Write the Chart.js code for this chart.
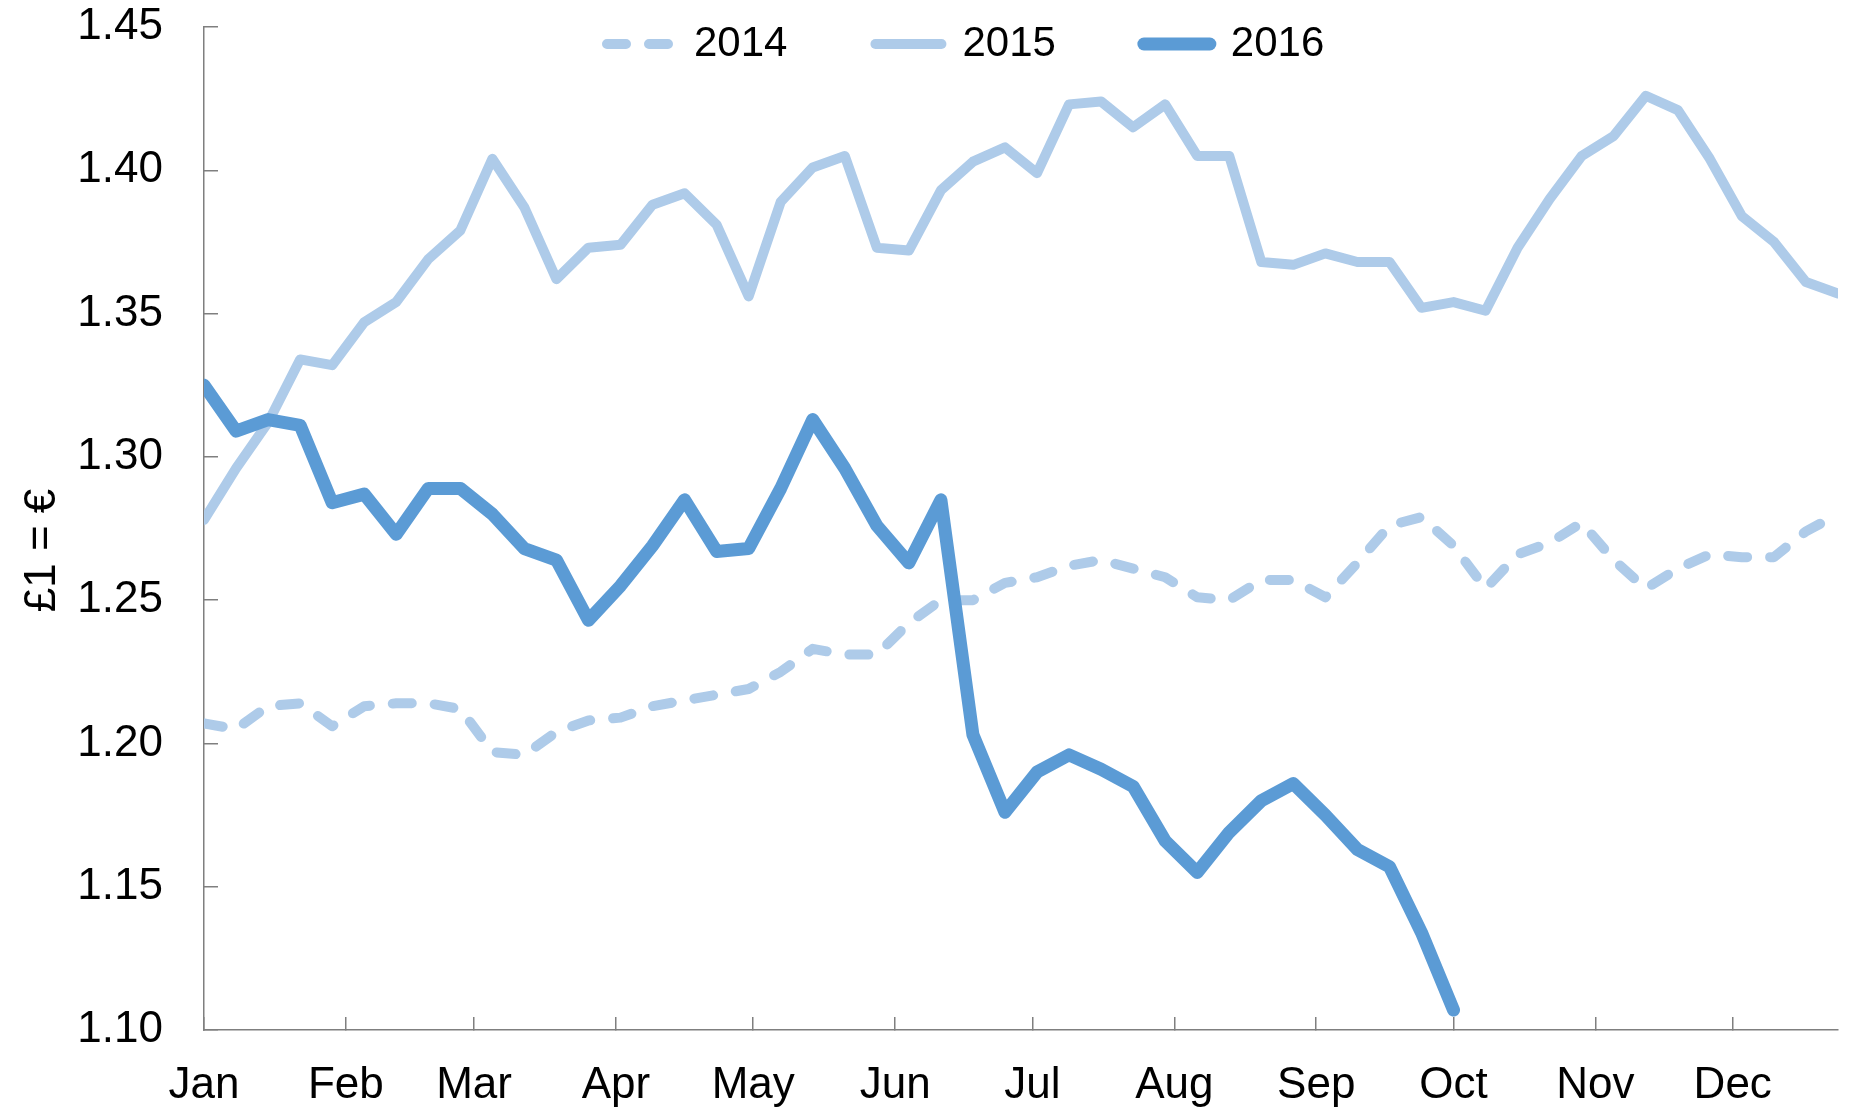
<!DOCTYPE html>
<html>
<head>
<meta charset="utf-8">
<title>£1 = €</title>
<script src="https://cdn.jsdelivr.net/npm/chart.js@4"></script>
<style>
  html, body { margin: 0; padding: 0; background: #fff; }
</style>
</head>
<body>
<canvas id="fx" width="1851" height="1111"></canvas>
<script>
// weekly sterling/euro rate, one line per year, x = day of year

const weekDays = [0, 7, 14, 21, 28, 35, 42, 49, 56, 63, 70, 77, 84, 91, 98, 105, 112, 119, 126, 133,
  140, 147, 154, 161, 168, 175, 182, 189, 196, 203, 210, 217, 224, 231, 238, 245, 252, 259, 266, 273,
  280, 287, 294, 301, 308, 315, 322, 329, 336, 343, 350, 357];

const monthStarts = [0, 31, 59, 90, 120, 151, 181, 212, 243, 273, 304, 334];
const monthNames = ['Jan', 'Feb', 'Mar', 'Apr', 'May', 'Jun', 'Jul', 'Aug', 'Sep', 'Oct', 'Nov', 'Dec'];
const yTicks = [1.10, 1.15, 1.20, 1.25, 1.30, 1.35, 1.40, 1.45];

const rate2014 = [1.207, 1.205, 1.213, 1.214, 1.206, 1.213, 1.214, 1.214, 1.212, 1.197,
  1.196, 1.204, 1.208, 1.209, 1.213, 1.215, 1.217, 1.219, 1.225, 1.233,
  1.231, 1.231, 1.242, 1.250, 1.250, 1.256, 1.258, 1.262, 1.264, 1.261,
  1.258, 1.251, 1.250, 1.257, 1.257, 1.251, 1.263, 1.276, 1.279, 1.269,
  1.254, 1.266, 1.270, 1.277, 1.264, 1.254, 1.261, 1.266, 1.265, 1.265,
  1.274, 1.280];

const rate2015 = [1.278, 1.296, 1.312, 1.334, 1.332, 1.347, 1.354, 1.369, 1.379, 1.404,
  1.387, 1.362, 1.373, 1.374, 1.388, 1.392, 1.381, 1.356, 1.389, 1.401,
  1.405, 1.373, 1.372, 1.393, 1.403, 1.408, 1.399, 1.423, 1.424, 1.415,
  1.423, 1.405, 1.405, 1.368, 1.367, 1.371, 1.368, 1.368, 1.352, 1.354,
  1.351, 1.373, 1.390, 1.405, 1.412, 1.426, 1.421, 1.404, 1.384, 1.375,
  1.361, 1.357];

const rate2016 = [1.325, 1.309, 1.313, 1.311, 1.284, 1.287, 1.273, 1.289, 1.289, 1.280,
  1.268, 1.264, 1.243, 1.255, 1.269, 1.285, 1.267, 1.268, 1.289, 1.313,
  1.296, 1.276, 1.263, 1.285, 1.203, 1.176, 1.190, 1.196, 1.191, 1.185,
  1.166, 1.155, 1.169, 1.180, 1.186, 1.175, 1.163, 1.157, 1.134, 1.107];

const LIGHT = '#aecbe9';
const DARK = '#5b9bd5';
const AXIS = '#7f7f7f';

Chart.defaults.font.family = "'Liberation Sans', Arial, sans-serif";
Chart.defaults.color = '#000';

const pts = (vals) => vals.map((v, i) => ({ x: weekDays[i], y: v }));

const line = (label, vals, color, width, order, dash) => ({
  label, data: pts(vals), borderColor: color, backgroundColor: color,
  borderWidth: width, borderDash: dash || [], borderCapStyle: 'round', borderJoinStyle: 'round',
  pointRadius: 0, tension: 0, fill: false, order,
});

// legend keys copy the dash / cap / width of their line
const legendLabels = (chart) =>
  Chart.defaults.plugins.legend.labels.generateLabels(chart).map(item => {
    const ds = chart.data.datasets[item.datasetIndex];
    item.lineDash = ds.borderDash;
    item.lineCap = 'round';
    item.lineWidth = ds.borderWidth;
    item.strokeStyle = ds.borderColor;
    return item;
  });

// legend sits inside the plot, left of centre
const legendPos = {
  id: 'legendPos',
  afterLayout(chart) {
    const lg = chart.legend;
    lg.left = 519;
    lg.right = 1851;
    lg.top = -65;
    lg.bottom = 90;
  },
};

new Chart(document.getElementById('fx'), {
  type: 'line',
  data: {
    datasets: [
      line('2014', rate2014, LIGHT, 10, 2, [19, 23]),
      line('2015', rate2015, LIGHT, 10, 1),
      line('2016', rate2016, DARK, 13, 0),
    ],
  },
  options: {
    responsive: false,
    animation: false,
    devicePixelRatio: 1,
    layout: { padding: { top: 0, right: 13, left: 0, bottom: 0 } },
    plugins: {
      tooltip: { enabled: false },
      legend: {
        position: 'top',
        align: 'start',
        maxHeight: 1,
        labels: {
          usePointStyle: true, pointStyle: 'line', pointStyleWidth: 66,
          padding: 88, font: { size: 42 }, color: '#000',
          generateLabels: legendLabels,
          sort: (a, b) => a.datasetIndex - b.datasetIndex,
        },
      },
    },
    scales: {
      x: {
        type: 'linear', min: 0, max: 357,
        afterBuildTicks: (s) => { s.ticks = monthStarts.map(v => ({ value: v })); },
        afterFit: (s) => { s.height = 81; },
        ticks: { font: { size: 44 }, padding: 42, maxRotation: 0, autoSkip: false,
          callback: (v, i) => monthNames[i] },
        grid: { drawOnChartArea: false, tickLength: -13, color: AXIS, lineWidth: 1.5 },
        border: { color: AXIS, width: 1.5 },
      },
      y: {
        min: 1.10, max: 1.45,
        afterBuildTicks: (s) => { s.ticks = yTicks.map(v => ({ value: v })); },
        afterFit: (s) => { s.width = 204; s.paddingTop = 27; s.paddingBottom = 0; },
        ticks: { font: { size: 44 }, padding: 55, callback: (v) => Number(v).toFixed(2) },
        grid: { drawOnChartArea: false, tickLength: -14, color: AXIS, lineWidth: 1.5 },
        border: { color: AXIS, width: 1.5 },
        title: { display: true, text: '£1 = €\u2002\u2002', font: { size: 44 }, color: '#000',
          padding: { top: 16, bottom: 0 } },
      },
    },
  },
  plugins: [legendPos],
});
</script>
</body>
</html>
